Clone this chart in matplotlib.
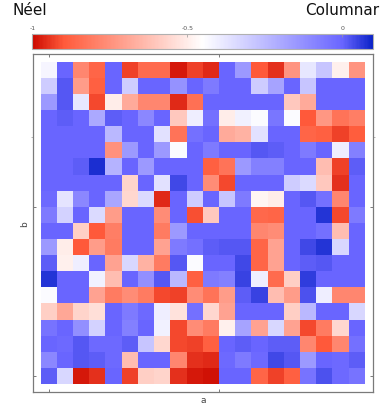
import numpy as np
import matplotlib
matplotlib.use("Agg")
import matplotlib.pyplot as plt
from matplotlib.colors import LinearSegmentedColormap, Normalize

# order parameter on a 20 x 20 lattice, rows listed from top (high b) to bottom
order = [
    [-0.42, 0.00, -0.78, -0.87, 0.00, -0.93, -0.85, -0.85, -0.98, -0.93, -0.96, 0.00, -0.15, -0.90, -0.95, -0.74, -0.38, -0.28, -0.49, -0.74],
    [-0.30, 0.02, -0.72, -0.88, 0.00, -0.30, 0.00, 0.00, -0.13, 0.00, -0.06, 0.00, 0.00, -0.30, -0.18, 0.00, -0.28, 0.00, 0.00, 0.00],
    [-0.15, 0.02, -0.38, -0.92, -0.50, -0.68, -0.78, -0.78, -0.96, -0.84, 0.00, 0.00, 0.00, 0.00, 0.00, -0.60, -0.68, 0.00, 0.00, 0.00],
    [0.00, 0.01, 0.00, -0.20, 0.01, 0.00, -0.10, 0.00, -0.60, -0.40, -0.03, -0.50, -0.41, -0.44, -0.05, -0.44, -0.90, -0.73, -0.83, -0.80],
    [0.00, 0.00, 0.00, 0.00, -0.24, 0.00, 0.00, -0.36, -0.83, -0.03, 0.00, -0.68, -0.66, -0.36, 0.00, 0.00, -0.87, -0.88, -0.93, -0.89],
    [0.00, 0.00, 0.00, 0.00, -0.75, -0.15, 0.00, -0.15, -0.44, 0.00, -0.06, 0.00, 0.00, 0.02, 0.01, 0.00, -0.06, 0.00, -0.40, -0.08],
    [0.00, 0.00, 0.01, 0.08, -0.23, 0.00, -0.15, 0.00, 0.00, 0.00, -0.88, -0.83, -0.15, -0.08, -0.08, 0.00, 0.00, -0.63, -0.93, 0.01],
    [0.00, 0.00, 0.00, 0.00, 0.00, -0.57, 0.00, -0.36, 0.04, 0.00, -0.76, -0.92, 0.00, 0.00, 0.00, -0.30, -0.34, -0.60, -0.95, 0.00],
    [-0.01, -0.37, -0.10, 0.00, -0.19, -0.56, -0.34, -0.96, 0.00, -0.30, 0.00, -0.28, -0.06, -0.48, -0.50, 0.00, 0.02, -0.03, -0.78, 0.00],
    [-0.06, -0.32, 0.00, -0.34, -0.72, 0.00, 0.00, -0.76, 0.00, -0.91, -0.60, 0.00, 0.00, -0.86, -0.87, 0.00, 0.00, 0.07, -0.92, -0.06],
    [0.00, 0.00, -0.58, -0.90, -0.80, 0.00, 0.00, -0.81, -0.15, 0.00, 0.00, 0.00, 0.00, -0.78, -0.76, 0.00, 0.00, -0.03, -0.63, 0.00],
    [-0.15, -0.50, -0.90, -0.72, -0.81, 0.00, 0.00, -0.70, -0.06, -0.03, 0.01, 0.02, 0.02, -0.87, -0.70, 0.00, 0.04, 0.07, -0.33, 0.00],
    [0.01, -0.49, -0.40, 0.00, -0.70, -0.33, -0.66, -0.81, 0.02, -0.44, 0.00, 0.00, 0.04, -0.87, -0.70, 0.00, 0.01, 0.02, 0.00, 0.00],
    [0.07, 0.00, 0.00, -0.41, -0.63, 0.00, -0.12, 0.02, -0.24, -0.88, -0.06, -0.08, 0.05, -0.40, -0.85, -0.58, 0.06, 0.00, 0.00, 0.00],
    [-0.44, 0.00, 0.00, -0.70, -0.81, -0.76, -0.81, -0.92, -0.93, -0.76, -0.83, -0.72, 0.01, 0.05, -0.63, -0.72, 0.03, -0.40, -0.78, -0.78],
    [-0.58, -0.69, -0.57, -0.54, 0.00, -0.06, -0.01, -0.40, -0.53, -0.03, -0.56, -0.70, 0.00, 0.00, 0.00, -0.58, -0.24, 0.00, 0.00, -0.33],
    [-0.04, 0.00, -0.12, -0.32, 0.00, -0.08, 0.00, -0.41, -0.92, -0.76, -0.81, -0.49, -0.18, -0.70, -0.33, -0.70, -0.92, -0.81, -0.56, 0.00],
    [0.00, -0.01, 0.02, -0.01, -0.01, 0.01, -0.28, -0.56, -0.92, -0.93, -0.88, 0.00, 0.01, 0.00, 0.01, 0.01, -0.78, -0.90, -0.78, -0.03],
    [-0.10, 0.00, 0.02, 0.01, -0.01, -0.63, 0.00, 0.00, -0.78, -0.95, -0.96, -0.01, -0.06, -0.01, 0.04, 0.02, -0.15, 0.00, -0.01, 0.01],
    [0.01, -0.33, -0.98, -0.95, 0.00, -0.93, -0.58, -0.57, -0.95, -0.98, -0.99, 0.00, 0.00, -0.87, -0.93, -0.88, -0.04, 0.03, -0.01, -0.04],
]

spacing = 1.0 / 21.0
a_ticks = [0.0, 0.5]
b_ticks = [0.0, 0.5]
b_minor = [0.707]
cbar_ticks = [-1.0, -0.5, 0.0]
cbar_labels = ["-1", "-0.5", "0"]
vmin, vmax = -1.0, 0.1
left_title = "Néel"
right_title = "Columnar"

# diverging map: white sits at the middle of [vmin, vmax]
def pos(v):
    return (v - vmin) / (vmax - vmin)

cmap = LinearSegmentedColormap.from_list(
    "neel_columnar",
    [
        (pos(-1.0), "#cc0a00"),
        (pos(-0.9), "#ff5a3a"),
        (pos(-0.45), "#ffffff"),
        (pos(0.0), "#6a66ff"),
        (pos(0.1), "#0a22c8"),
    ],
)
norm = Normalize(vmin=vmin, vmax=vmax)

grid = np.array(order)[::-1]  # bottom row first
n_b, n_a = grid.shape
a_edges = (np.arange(n_a + 1) - 0.5) * spacing
b_edges = (np.arange(n_b + 1) - 0.5) * spacing

fig = plt.figure(figsize=(3.91, 4.06), dpi=100)

ax = fig.add_axes([32.5 / 391, 13 / 406, 340.5 / 391, 338.3 / 406])
mesh = ax.pcolormesh(a_edges, b_edges, grid, cmap=cmap, norm=norm, shading="flat")
ax.set_xlim(-spacing, n_a * spacing)
ax.set_ylim(-spacing, n_b * spacing)

frame = "#7a7a7a"
for s in ax.spines.values():
    s.set_color(frame)
    s.set_linewidth(0.9)
ax.set_xticks(a_ticks)
ax.set_yticks(b_ticks)
ax.set_yticks(b_minor, minor=True)
ax.tick_params(which="major", direction="in", length=2.4, width=0.7, color=frame,
               top=True, right=True, labelbottom=False, labelleft=False)
ax.tick_params(which="minor", direction="out", length=1.2, width=0.6, color="#aaaaaa",
               left=True, right=True)
ax.tick_params(axis="x", which="minor", bottom=False, top=False)
ax.set_xlabel("a", fontsize=6.5, color="#444444")
ax.set_ylabel("b", fontsize=6.5, color="#444444")
ax.xaxis.set_label_coords(0.5, -8.0 / 338.3, transform=ax.transAxes)
ax.xaxis.label.set_va("center")
ax.yaxis.set_label_coords(-7.5 / 340.5, 0.5, transform=ax.transAxes)
ax.yaxis.label.set_va("center")

cax = fig.add_axes([32.3 / 391, (406 - 49.5) / 406, 341 / 391, 14.5 / 406])
cb = fig.colorbar(mesh, cax=cax, orientation="horizontal")
cb.set_ticks(cbar_ticks)
cb.set_ticklabels(cbar_labels)
cb.outline.set_edgecolor("#b0b0b0")
cb.outline.set_linewidth(0.8)
cax.xaxis.set_ticks_position("top")
cax.xaxis.set_label_position("top")
cax.tick_params(axis="x", direction="in", length=2.2, width=0.5, color="#999999",
                labelsize=4.5, labelcolor="#555555", pad=3)
cax.tick_params(axis="x", which="minor", top=False, bottom=False)

fig.text(12 / 391, 1 - 10.5 / 406, left_title, fontsize=11, ha="left", va="center", color="#111111")
fig.text(379 / 391, 1 - 10.5 / 406, right_title, fontsize=11, ha="right", va="center", color="#111111")

fig.savefig("out.png", dpi=100)
